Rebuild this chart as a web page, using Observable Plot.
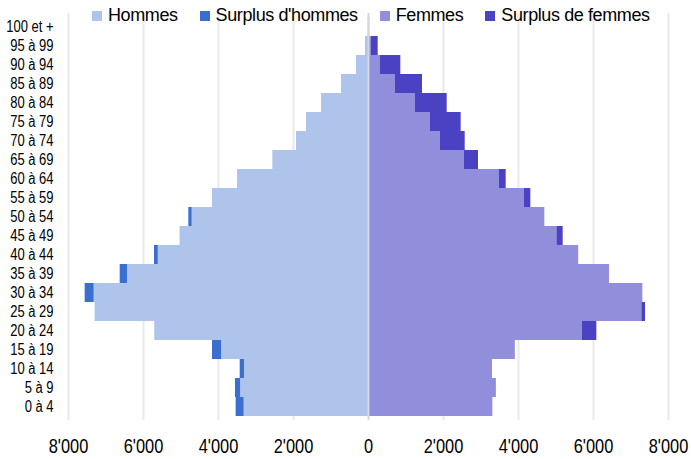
<!DOCTYPE html>
<html>
<head>
<meta charset="utf-8">
<script src="https://cdn.jsdelivr.net/npm/d3@7"></script>
<script src="https://cdn.jsdelivr.net/npm/@observablehq/plot@0.6"></script>
<style>
  html, body { margin: 0; padding: 0; background: #fff; }
  #wrap { position: relative; width: 691px; height: 459px; font-family: "Liberation Sans", Arial, sans-serif; }
  #legend { position: absolute; left: 92px; top: 5px; display: flex; align-items: center; font-size: 18px; letter-spacing: -0.4px; color: #000; white-space: nowrap; line-height: 21px; }
  #legend .item { display: flex; align-items: center; margin-right: 22px; }
  #legend .sw { width: 10px; height: 10px; margin-right: 6px; }
</style>
</head>
<body>
<div id="wrap"><div id="chart"></div><div id="legend"></div></div>
<script>
const ages = ["0 à 4","5 à 9","10 à 14","15 à 19","20 à 24","25 à 29","30 à 34","35 à 39","40 à 44","45 à 49","50 à 54","55 à 59","60 à 64","65 à 69","70 à 74","75 à 79","80 à 84","85 à 89","90 à 94","95 à 99","100 et +"];
const hommes = [3530, 3547, 3422, 4160, 5700, 7290, 7556, 6622, 5707, 5025, 4791, 4160, 3493, 2551, 1920, 1653, 1253, 720, 320, 80, 10];
const femmes = [3316, 3410, 3307, 3915, 6089, 7387, 7316, 6427, 5605, 5191, 4702, 4329, 3671, 2933, 2578, 2471, 2098, 1440, 862, 258, 30];
const series = ["Hommes", "Surplus d'hommes", "Femmes", "Surplus de femmes"];
const colors = ["#aec4ea", "#3a6fd1", "#918edc", "#4a42c3"];
const xTicks = [-8000, -6000, -4000, -2000, 0, 2000, 4000, 6000, 8000];

// table for the library: the common part and the surplus on each side
const rows = [];
ages.forEach((age, i) => {
  const h = hommes[i], f = femmes[i], m = Math.min(h, f);
  rows.push({age, serie: series[0], value: -m});
  rows.push({age, serie: series[1], value: -Math.max(0, h - f)});
  rows.push({age, serie: series[2], value: m});
  rows.push({age, serie: series[3], value: Math.max(0, f - h)});
});

const fmt = d => String(Math.abs(d)).replace(/\B(?=(\d{3})+(?!\d))/g, "'");

const chart = Plot.plot({
  width: 691,
  height: 459,
  marginLeft: 68,
  marginRight: 23,
  marginTop: 13,
  marginBottom: 39,
  style: {fontFamily: '"Liberation Sans", Arial, sans-serif', color: "#000", background: "#fff"},
  x: {domain: [-8000, 8000]},
  y: {domain: ages.slice().reverse(), padding: 0},
  color: {domain: series, range: colors},
  marks: [
    Plot.ruleX(xTicks.filter(d => d !== 0), {stroke: "#e9e9e9", strokeWidth: 2}),
    Plot.barX(rows, {x: "value", y: "age", fill: "serie", order: series}),
    Plot.ruleX([0], {stroke: "#d6d6e0", strokeWidth: 2}),
    Plot.axisX(xTicks, {tickSize: 0, tickPadding: 18, tickFormat: fmt, fontSize: 21, label: null}),
    Plot.axisY({tickSize: 0, tickPadding: 15, fontSize: 16, label: null})
  ]
});
document.getElementById("chart").appendChild(chart);

// narrow glyphs as in the reference
chart.querySelectorAll("text").forEach(t => {
  const g = t.closest("g");
  const lab = g ? (g.getAttribute("aria-label") || "") : "";
  const ratio = lab.startsWith("x-axis") ? 0.78 : 0.81;
  const w = t.getComputedTextLength();
  t.setAttribute("textLength", (w * ratio).toFixed(2));
  t.setAttribute("lengthAdjust", "spacingAndGlyphs");
});

const legend = document.getElementById("legend");
series.forEach((s, i) => {
  const it = document.createElement("div");
  it.className = "item";
  const sw = document.createElement("div");
  sw.className = "sw";
  sw.style.background = colors[i];
  const tx = document.createElement("span");
  tx.textContent = s;
  it.appendChild(sw); it.appendChild(tx);
  legend.appendChild(it);
});
</script>
</body>
</html>
